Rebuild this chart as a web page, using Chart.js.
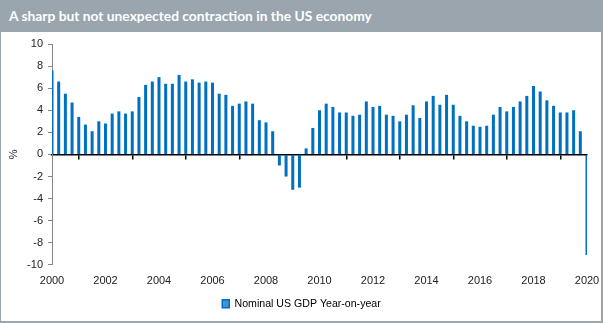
<!DOCTYPE html>
<html>
<head>
<meta charset="utf-8">
<script src="https://cdn.jsdelivr.net/npm/chart.js@4.4.1/dist/chart.umd.min.js"></script>
<style>
  html, body { margin: 0; padding: 0; background: #fff; }
  #wrap { position: relative; width: 603px; height: 323px; background: #fff; overflow: hidden; }
  #chart { position: absolute; left: 0; top: 0; }
  #head {
    position: absolute; left: 0; top: 0; width: 603px; height: 32px; background: #9ba5ae;
    color: #fff; font: bold 13.8px Lato, sans-serif; line-height: 32px; padding-left: 9px; box-sizing: border-box;
  }
  .edge { position: absolute; background: #9ba5ae; }
</style>
</head>
<body>
<div id="wrap">
  <canvas id="chart" width="603" height="323"></canvas>
  <div id="head">A sharp but not unexpected contraction in the US economy</div>
  <div class="edge" style="left:0;top:32px;width:1px;height:291px"></div>
  <div class="edge" style="left:601px;top:32px;width:2px;height:291px"></div>
  <div class="edge" style="left:0;top:321px;width:603px;height:2px"></div>
</div>
<script>
// Nominal US GDP, year-on-year % change, quarterly 2000 Q1 - 2020 Q1
const seriesName = 'Nominal US GDP Year-on-year';
const firstYear = 2000;
const gdpYoY = [
  7.6, 6.6, 5.5, 4.7, 3.4, 2.7, 2.1, 3.0,   // 2000-2001
  2.8, 3.7, 3.9, 3.7, 3.9, 5.2, 6.3, 6.6,   // 2002-2003
  7.0, 6.4, 6.4, 7.2, 6.6, 6.8, 6.5, 6.6,   // 2004-2005
  6.5, 5.5, 5.4, 4.4, 4.6, 4.8, 4.6, 3.1,   // 2006-2007
  2.9, 2.1, -1.0, -2.0, -3.2, -3.0, 0.55, 2.4, // 2008-2009
  4.0, 4.6, 4.3, 3.8, 3.8, 3.5, 3.6, 4.8,   // 2010-2011
  4.3, 4.4, 3.6, 3.5, 3.0, 3.6, 4.45, 3.3,  // 2012-2013
  4.8, 5.3, 4.5, 5.4, 4.5, 3.5, 3.0, 2.6,   // 2014-2015
  2.5, 2.6, 3.6, 4.3, 3.9, 4.3, 4.8, 5.3,   // 2016-2017
  6.2, 5.7, 4.9, 4.4, 3.8, 3.8, 4.0, 2.1,   // 2018-2019
  -9.1                                      // 2020 Q1
];
const quarters = gdpYoY.map((v, i) => (firstYear + Math.floor(i / 4)) + ' Q' + (i % 4 + 1));
const yTicks = { min: -10, max: 10, step: 2 };
const yearEvery = 8; // label every 2 years

const barBlue = '#0070C0';
const axisGrey = '#868686';
const font = { family: "'Liberation Sans', Arial, sans-serif", size: 11 };

const everyTwoYears = (scale) => {
  scale.ticks = scale.ticks.filter(t => t.value % yearEvery === 0);
};
// fixed side padding so the plot ends at 2020 where the reference does,
// while the legend stays centred on the full width
const sidePad = (right) => (s) => { s.paddingLeft = 0; s.paddingRight = right; };

new Chart(document.getElementById('chart'), {
  type: 'bar',
  data: {
    labels: quarters,
    datasets: [{
      label: seriesName,
      data: gdpYoY,
      backgroundColor: barBlue,
      borderWidth: 0,
      barPercentage: 0.45,
      categoryPercentage: 1
    }]
  },
  options: {
    responsive: false,
    animation: false,
    events: [],
    layout: { padding: { top: 44, left: 0, right: 0, bottom: 4 } },
    plugins: {
      title: { display: false },
      tooltip: { enabled: false },
      legend: {
        position: 'bottom',
        labels: {
          font: { family: font.family, size: 10.6 },
          color: '#222',
          boxWidth: 7,
          boxHeight: 8,
          padding: 10,
          generateLabels: () => [{
            text: seriesName, fillStyle: '#3f92d3', strokeStyle: barBlue, lineWidth: 1.5, datasetIndex: 0
          }]
        }
      }
    },
    scales: {
      x: {
        axis: 'x',
        type: 'category',
        position: { y: 0 },
        offset: false,
        afterBuildTicks: everyTwoYears,
        afterFit: sidePad(0),
        ticks: { display: false, autoSkip: false },
        grid: { drawOnChartArea: false, drawTicks: true, tickLength: 4, color: '#000', lineWidth: 1.5 },
        border: { color: '#000', width: 1.5 }
      },
      x2: {
        axis: 'x',
        type: 'category',
        position: 'bottom',
        offset: false,
        afterBuildTicks: everyTwoYears,
        afterFit: (s) => { s.height = 23.5; sidePad(16)(s); },
        ticks: {
          autoSkip: false, maxRotation: 0, padding: 9, color: '#222', font: font,
          callback: (v) => quarters[v].slice(0, 4)
        },
        grid: { display: false, drawTicks: false },
        border: { display: false }
      },
      y: {
        min: yTicks.min,
        max: yTicks.max,
        afterFit: (s) => { s.width = 52; },
        ticks: { stepSize: yTicks.step, padding: 5, color: '#222', font: font },
        grid: { drawOnChartArea: false, drawTicks: true, tickLength: 4, color: axisGrey },
        border: { color: axisGrey, width: 1 },
        title: { display: true, text: '%', color: '#222', font: font, padding: { top: 7, bottom: 0 } }
      }
    }
  }
});
</script>
</body>
</html>
